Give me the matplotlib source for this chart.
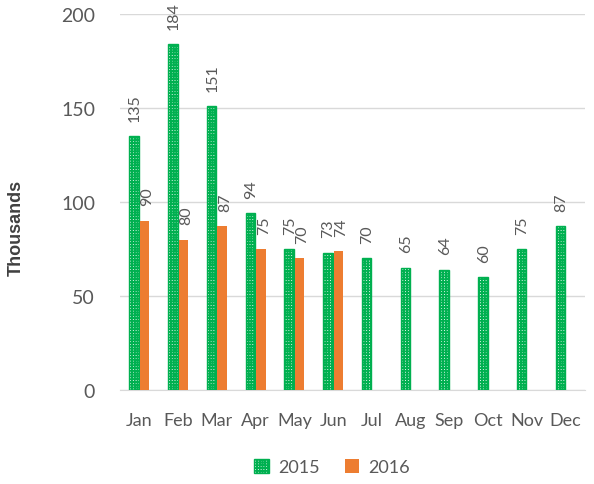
import matplotlib
import numpy as np

matplotlib.use("Agg")
import matplotlib.pyplot as plt

months = ["Jan", "Feb", "Mar", "Apr", "May", "Jun",
          "Jul", "Aug", "Sep", "Oct", "Nov", "Dec"]
sales_2015 = [135, 184, 151, 94, 75, 73, 70, 65, 64, 60, 75, 87]
sales_2016 = [90, 80, 87, 75, 70, 74]
series_names = ["2015", "2016"]

GREEN = "#00B050"
ORANGE = "#ED7D31"
GREY_TXT = "#595959"
GRID = "#D9D9D9"

plt.rcParams["font.family"] = ["Lato", "DejaVu Sans"]
plt.rcParams["hatch.linewidth"] = 1.3

fig = plt.figure(figsize=(5.94, 4.85), dpi=100)
ax = fig.add_axes([0.202, 0.194, 0.783, 0.775])

x = np.arange(len(months))
off, w = 0.135, 0.245
b15 = ax.bar(x - off, sales_2015, w, facecolor="white", edgecolor=GREEN,
             hatch="++++++", linewidth=1.0, label=series_names[0], zorder=3)
x16 = x[:len(sales_2016)]
b16 = ax.bar(x16 + off, sales_2016, w, color=ORANGE, label=series_names[1], zorder=3)

# 2015 labels nudged left, 2016 right, so the side-by-side pairs don't collide
for bars, vals, dx in ((b15, sales_2015, 0.5), (b16, sales_2016, 2.0)):
    for rect, v in zip(bars, vals):
        ax.annotate(str(v), (rect.get_x() + rect.get_width() / 2, v),
                    xytext=(dx, 11), textcoords="offset points",
                    rotation=90, ha="center", va="bottom",
                    fontsize=11.5, color=GREY_TXT, annotation_clip=False)

ax.set_ylim(0, 200)
ax.set_xlim(-0.5, len(months) - 0.5)
ax.set_yticks([0, 50, 100, 150, 200])
ax.set_xticks(x)
ax.set_xticklabels(months)
ax.tick_params(axis="y", length=0, labelsize=14, labelcolor=GREY_TXT, pad=18)
ax.tick_params(axis="x", length=0, labelsize=13, labelcolor=GREY_TXT, pad=16)
ax.yaxis.grid(True, color=GRID, linewidth=1, zorder=0)
for s in ("top", "right", "left"):
    ax.spines[s].set_visible(False)
ax.spines["bottom"].set_color(GRID)
ax.set_axisbelow(True)

fig.text(0.028, 0.53, "Thousands", rotation=90, ha="center", va="center",
         fontsize=13, fontweight="bold", color="#404040",
         family=["Liberation Sans", "DejaVu Sans"])

fig.legend(handles=[b15, b16], labels=series_names, loc="center",
           bbox_to_anchor=(0.559, 0.035), ncol=2, frameon=False,
           fontsize=13, labelcolor=GREY_TXT, handlelength=0.8,
           handleheight=0.8, columnspacing=1.4, handletextpad=0.5)

fig.savefig("out.png", dpi=100)
